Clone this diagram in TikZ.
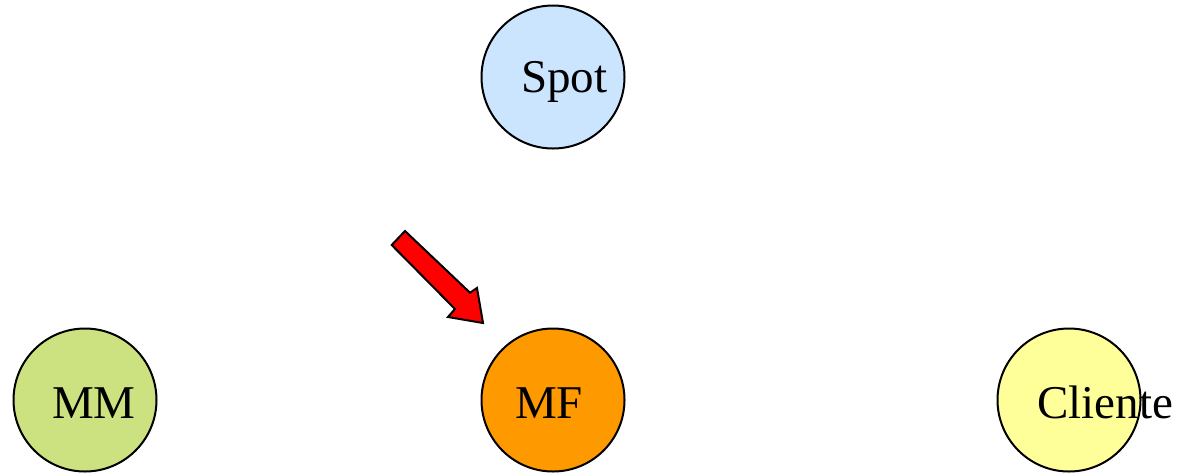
\documentclass[tikz,border=0pt]{standalone}
\usepackage{fontspec}
\setmainfont{Liberation Serif}
\definecolor{spotblue}{HTML}{CCE5FF}
\definecolor{mmgreen}{HTML}{CCE17F}
\definecolor{mforange}{HTML}{FF9900}
\definecolor{clientyellow}{HTML}{FFFF99}
\begin{document}
\begin{tikzpicture}[x=1pt,y=-1pt,
  market/.style={circle,draw=black,line width=2pt,minimum size=143pt,inner sep=0pt},
  tag/.style={anchor=base west,inner sep=0pt,font=\fontsize{47}{52}\selectfont},
  blockarrow/.style={draw=black,fill=red,line width=2pt,line join=miter}]
\useasboundingbox (0,0) rectangle (1180,475);
% markets
\node[market,fill=spotblue]     (spot)    at (553,77)  {};
\node[market,fill=mmgreen]      (mm)      at (85,400)  {};
\node[market,fill=mforange]     (mf)      at (553,400) {};
\node[market,fill=clientyellow] (cliente) at (1069,400) {};
% labels
\node[tag] (spotlbl)    at (521,92)   {Spot};
\node[tag] (mmlbl)      at (52,418)   {MM};
\node[tag] (mflbl)      at (515,418)  {MF};
\node[tag] (clientelbl) at (1037,418) {Cliente};
% red block arrow pointing towards MF
\coordinate (tail) at (398.3,238);
\coordinate (tip)  at (483,323);
\draw[blockarrow] (391.7,245) -- (405,231) -- (470,292.7) -- (477,288)
  -- (tip) -- (448,317) -- (455,309) -- cycle;
\end{tikzpicture}
\end{document}
